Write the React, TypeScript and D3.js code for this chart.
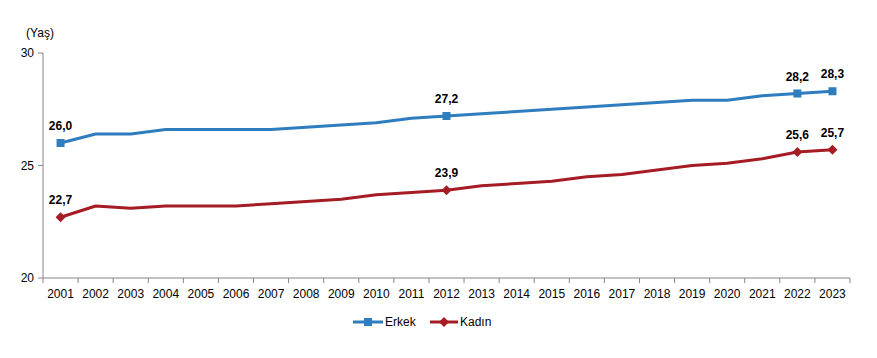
import { scaleLinear, scaleBand, line } from "d3";

const years = ["2001","2002","2003","2004","2005","2006","2007","2008","2009","2010","2011","2012","2013","2014","2015","2016","2017","2018","2019","2020","2021","2022","2023"];
const erkek = [26.0,26.4,26.4,26.6,26.6,26.6,26.6,26.7,26.8,26.9,27.1,27.2,27.3,27.4,27.5,27.6,27.7,27.8,27.9,27.9,28.1,28.2,28.3];
const kadin = [22.7,23.2,23.1,23.2,23.2,23.2,23.3,23.4,23.5,23.7,23.8,23.9,24.1,24.2,24.3,24.5,24.6,24.8,25.0,25.1,25.3,25.6,25.7];
const labelled = ["2001","2012","2022","2023"];
const yTicks = [20, 25, 30];

const W = 877, H = 358;
const left = 43, right = 850, top = 53, bottom = 278;
const font = "'Liberation Sans', Arial, sans-serif";
const blue = "#2e7dbf";
const red = "#a51c24";

export default function App() {
  const x = scaleBand().domain(years).range([left, right]);
  const y = scaleLinear().domain([20, 30]).range([bottom, top]);
  const cx = (yr: string) => (x(yr) as number) + x.bandwidth() / 2;

  const gen = line<number>().x((_, i) => cx(years[i])).y(d => y(d));

  const series = [
    { name: "Erkek", values: erkek, color: blue, marker: "square" },
    { name: "Kadın", values: kadin, color: red, marker: "diamond" },
  ];

  const marker = (m: string, px: number, py: number, color: string, key: string) =>
    m === "square" ? (
      <rect key={key} x={px - 4} y={py - 4} width={8} height={8} fill={color} />
    ) : (
      <path key={key} d={`M${px},${py - 5}L${px + 5},${py}L${px},${py + 5}L${px - 5},${py}Z`} fill={color} />
    );

  const boundaries = years.map(yr => x(yr) as number).concat([right]);

  return (
    <svg width={W} height={H} style={{ position: "absolute", left: 0, top: 0, background: "#fff" }} fontFamily={font}>
      <text x={40} y={37} fontSize={12} textAnchor="middle" fill="#000">(Yaş)</text>

      {/* y axis */}
      <line x1={left} x2={left} y1={top} y2={bottom} stroke="#868686" />
      {yTicks.map(t => (
        <g key={t}>
          <line x1={left - 5} x2={left} y1={y(t)} y2={y(t)} stroke="#868686" />
          <text x={left - 9} y={y(t)} dy="0.35em" fontSize={12} textAnchor="end" fill="#000">{t}</text>
        </g>
      ))}

      {/* x axis */}
      <line x1={left} x2={right} y1={bottom} y2={bottom} stroke="#868686" />
      {boundaries.map((b, i) => (
        <line key={i} x1={b} x2={b} y1={bottom} y2={bottom + 5} stroke="#868686" />
      ))}
      {years.map(yr => (
        <text key={yr} x={cx(yr)} y={bottom + 20} fontSize={12} textAnchor="middle" fill="#000">{yr}</text>
      ))}

      {/* lines */}
      {series.map(s => (
        <g key={s.name}>
          <path d={gen(s.values) as string} fill="none" stroke={s.color} strokeWidth={3} strokeLinejoin="round" />
          {years.map((yr, i) =>
            labelled.includes(yr) ? (
              <g key={yr}>
                {marker(s.marker, cx(yr), y(s.values[i]), s.color, "m" + yr)}
                <text x={cx(yr)} y={y(s.values[i]) - 13} fontSize={12} fontWeight="bold" textAnchor="middle" fill="#000">
                  {s.values[i].toFixed(1).replace(".", ",")}
                </text>
              </g>
            ) : null
          )}
        </g>
      ))}

      {/* legend */}
      <g>
        <line x1={353} x2={383} y1={322} y2={322} stroke={blue} strokeWidth={3} />
        {marker("square", 368, 322, blue, "lg1")}
        <text x={385} y={322} dy="0.35em" fontSize={12} fill="#000">Erkek</text>
        <line x1={430} x2={458} y1={322} y2={322} stroke={red} strokeWidth={3} />
        {marker("diamond", 444, 322, red, "lg2")}
        <text x={460} y={322} dy="0.35em" fontSize={12} fill="#000">Kadın</text>
      </g>
    </svg>
  );
}
